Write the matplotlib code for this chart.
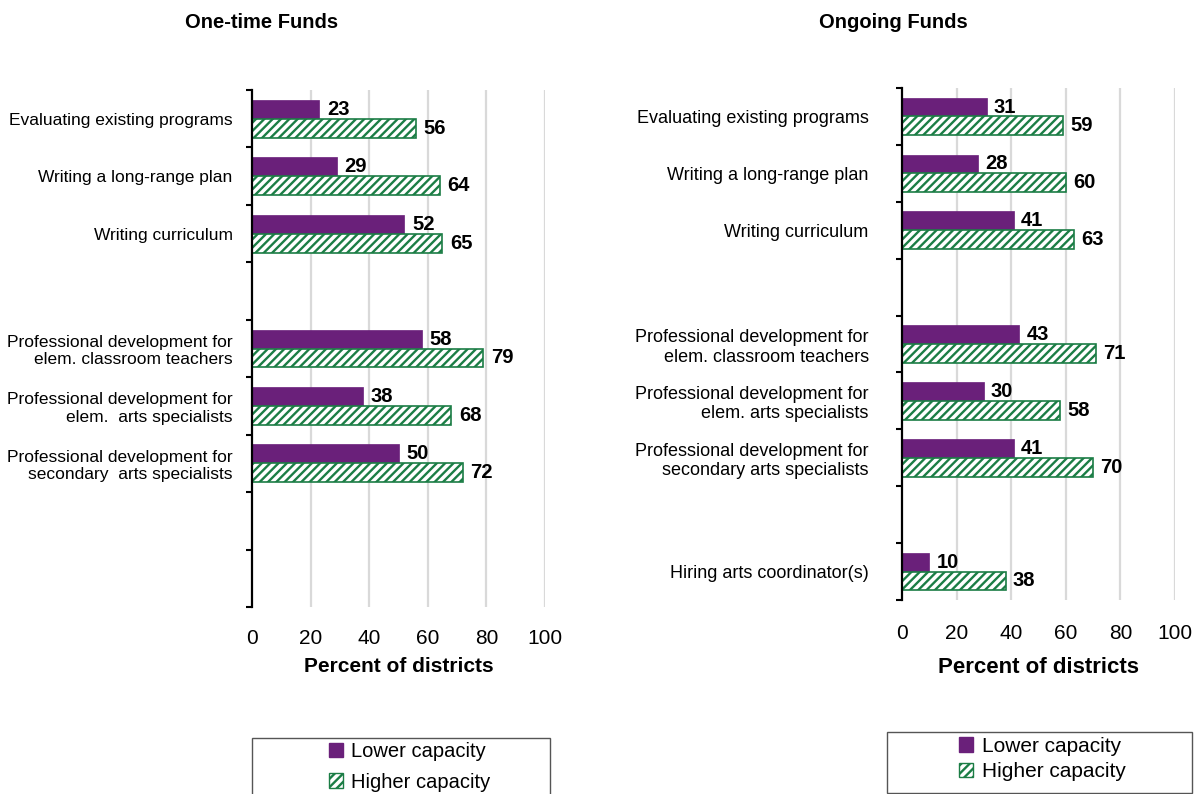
import numpy as np
import matplotlib
matplotlib.use('Agg')
import matplotlib.pyplot as plt
from matplotlib.patches import Patch, Rectangle

plt.rcParams['font.family'] = ['Liberation Sans', 'DejaVu Sans']
plt.rcParams['hatch.linewidth'] = 1.7

# data
left_cats = ["Evaluating existing programs", "Writing a long-range plan", "Writing curriculum",
             "Professional development for\nelem. classroom teachers",
             "Professional development for\nelem.  arts specialists",
             "Professional development for\nsecondary  arts specialists"]
left_lower = [23, 29, 52, 58, 38, 50]
left_higher = [56, 64, 65, 79, 68, 72]

right_cats = ["Evaluating existing programs", "Writing a long-range plan", "Writing curriculum",
              "Professional development for\nelem. classroom teachers",
              "Professional development for\nelem. arts specialists",
              "Professional development for\nsecondary arts specialists",
              "Hiring arts coordinator(s)"]
right_lower = [31, 28, 41, 43, 30, 41, 10]
right_higher = [59, 60, 63, 71, 58, 70, 38]

series_names = ["Lower capacity", "Higher capacity"]
x_ticks = [0, 20, 40, 60, 80, 100]

PURPLE = '#6A207A'
GREEN = '#1B7D45'
N_SLOTS = 9
BAR_H = 0.33


def draw_panel(ax, slots, cats, lower, higher, cat_size, label_pad, tick_pad, xlabel_size, xlabel_y):
    slots = np.array(slots)
    ax.barh(slots + 0.5 - BAR_H / 2, lower, height=BAR_H, color=PURPLE, edgecolor=PURPLE, linewidth=0.5, zorder=3)
    ax.barh(slots + 0.5 + BAR_H / 2, higher, height=BAR_H, facecolor='white', edgecolor=GREEN,
            hatch='////', linewidth=1.2, zorder=3)
    for s, v in zip(slots, lower):
        ax.text(v + 2.6, s + 0.5 - BAR_H / 2, str(v), va='center', ha='left', fontsize=14.5, fontweight='bold')
    for s, v in zip(slots, higher):
        ax.text(v + 2.6, s + 0.5 + BAR_H / 2, str(v), va='center', ha='left', fontsize=14.5, fontweight='bold')

    ax.set_xlim(0, 100)
    ax.set_ylim(N_SLOTS, 0)
    ax.set_xticks(x_ticks)
    ax.set_xticklabels([str(t) for t in x_ticks], fontsize=15)
    ax.tick_params(axis='x', length=0, pad=tick_pad)
    ax.set_yticks(range(N_SLOTS + 1))
    ax.set_yticklabels([])
    ax.tick_params(axis='y', which='major', direction='out', length=4, width=1.5)
    ax.set_yticks(slots + 0.5, minor=True)
    ax.set_yticklabels(cats, minor=True, fontsize=cat_size)
    ax.tick_params(axis='y', which='minor', length=0, pad=label_pad)
    for lab in ax.get_yticklabels(minor=True):
        lab.set_multialignment('right')
        lab.set_linespacing(1.2)

    for g in x_ticks[1:]:
        ax.axvline(g, color='#D9D9D9', linewidth=1.6, zorder=0)
    for sp in ['top', 'right', 'bottom']:
        ax.spines[sp].set_visible(False)
    ax.spines['left'].set_linewidth(1.6)
    ax.spines['left'].set_zorder(4)
    ax.set_xlabel('Percent of districts', fontsize=xlabel_size, fontweight='bold')
    ax.xaxis.set_label_coords(0.5, xlabel_y)


W, H = 1195, 794
fig = plt.figure(figsize=(W / 100, H / 100), dpi=100)

ax1 = fig.add_axes([252 / W, 1 - 607 / H, (545 - 252) / W, (607 - 90) / H])
ax2 = fig.add_axes([902 / W, 1 - 600 / H, (1175 - 902) / W, (600 - 88) / H])

draw_panel(ax1, [0, 1, 2, 4, 5, 6], left_cats, left_lower, left_higher, 12.5, 14, 16, 15, -0.097)
draw_panel(ax2, [0, 1, 2, 4, 5, 6, 8], right_cats, right_lower, right_higher, 13, 24, 17.5, 16, -0.112)

fig.text(262 / W, 1 - 22 / H, 'One-time Funds', ha='center', va='center', fontsize=14.5, fontweight='bold')
fig.text(893 / W, 1 - 22 / H, 'Ongoing Funds', ha='center', va='center', fontsize=14.5, fontweight='bold')

# legend boxes
fig.patches.append(Rectangle((252 / W, -0.02), (550 - 252) / W, 0.02 + 1 - 738 / H,
                             transform=fig.transFigure, fill=False, edgecolor='#555555', linewidth=1))
fig.patches.append(Rectangle((887 / W, 1 - 793 / H), (1192 - 887) / W, (793 - 732) / H,
                             transform=fig.transFigure, fill=False, edgecolor='#555555', linewidth=1))

handles = [Patch(facecolor=PURPLE, edgecolor=PURPLE),
           Patch(facecolor='white', edgecolor=GREEN, hatch='////')]
fig.legend(handles, series_names, loc='center', bbox_to_anchor=(410 / W, 1 - 767 / H), frameon=False,
           fontsize=14.5, handlelength=0.7, handleheight=0.7, handletextpad=0.4, labelspacing=0.55)
fig.legend(handles, series_names, loc='center', bbox_to_anchor=(1042 / W, 1 - 759 / H), frameon=False,
           fontsize=15, handlelength=0.7, handleheight=0.7, handletextpad=0.4, labelspacing=0.32)

fig.savefig('out.png', dpi=100)
